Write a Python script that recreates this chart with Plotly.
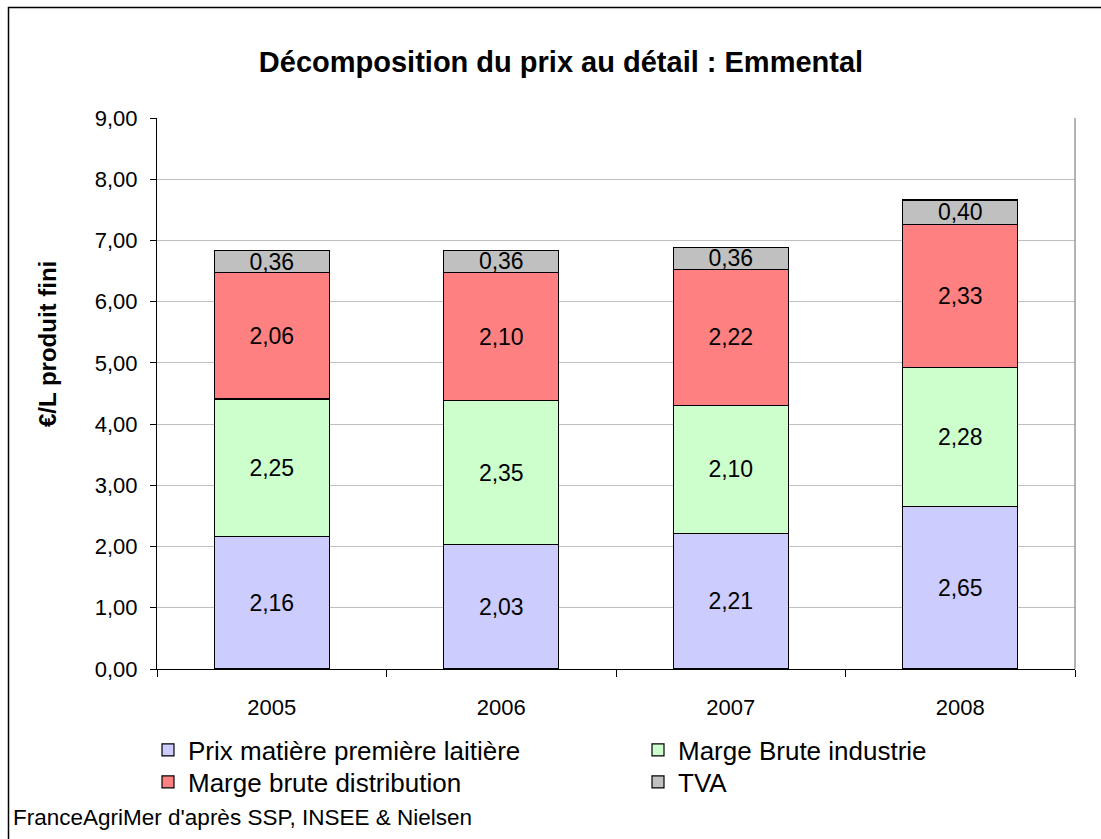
import plotly.graph_objects as go

years = ["2005", "2006", "2007", "2008"]
prix_matiere = [2.16, 2.03, 2.21, 2.65]
marge_industrie = [2.25, 2.35, 2.10, 2.28]
marge_distribution = [2.06, 2.10, 2.22, 2.33]
tva = [0.36, 0.36, 0.36, 0.40]

series = [
    ("Prix matière première laitière", prix_matiere, "#CCCCFF", "legend"),
    ("Marge Brute industrie", marge_industrie, "#CCFFCC", "legend"),
    ("Marge brute distribution", marge_distribution, "#FF8080", "legend2"),
    ("TVA", tva, "#C0C0C0", "legend2"),
]

W, H = 1101, 839
L, R, T, B = 157, 26, 118, 170
pw, ph = W - L - R, H - T - B

font = "Liberation Sans, Arial, sans-serif"

fig = go.Figure()
for name, vals, col, leg in series:
    fig.add_trace(go.Bar(
        x=years, y=vals, name=name, legend=leg,
        marker=dict(color=col, line=dict(color="#000000", width=1.2)),
        text=[f"{v:.2f}".replace(".", ",") for v in vals],
        textposition="inside", insidetextanchor="middle",
        constraintext="none",
        textfont=dict(family=font, size=23, color="#000000"),
        hoverinfo="skip",
    ))

def px_x(p):
    return (p - L) / pw

def px_y(p):
    return (H - B - p) / ph

leg_common = dict(
    orientation="h", xanchor="left", yanchor="middle",
    entrywidth=445, entrywidthmode="pixels",
    traceorder="normal", font=dict(size=26, family=font),
    itemwidth=30, tracegroupgap=0, bgcolor="rgba(0,0,0,0)",
)

fig.update_layout(
    width=W, height=H,
    barmode="stack", bargap=0.5,
    separators=", ",
    paper_bgcolor="#FFFFFF", plot_bgcolor="#FFFFFF",
    margin=dict(l=L, r=R, t=T, b=B, autoexpand=False),
    font=dict(family=font, size=22, color="#000000"),
    title=dict(text="<b>Décomposition du prix au détail : Emmental</b>",
               x=561 / W, xanchor="center", y=1 - 62 / H, yanchor="middle",
               font=dict(size=29, family=font)),
    xaxis=dict(
        type="category", showgrid=False,
        showline=True, linecolor="#000000", linewidth=1.2,
        ticks="outside", tickson="boundaries", ticklen=7, tickcolor="#000000",
        tickfont=dict(size=22), ticklabelstandoff=18,
    ),
    yaxis=dict(
        range=[0, 9], dtick=1, tickformat=".2f",
        showgrid=True, gridcolor="#C0C0C0", gridwidth=1,
        showline=True, linecolor="#000000", linewidth=1.2,
        ticks="outside", ticklen=6, tickcolor="#000000",
        tickfont=dict(size=22), zeroline=False, ticklabelstandoff=8,
    ),
    legend=dict(x=px_x(148), y=px_y(750), **leg_common),
    legend2=dict(x=px_x(148), y=px_y(782), **leg_common),
    showlegend=True,
)

# y-axis title
fig.add_annotation(text="<b>€/L produit fini</b>", xref="paper", yref="paper",
                   x=px_x(47), y=px_y(344), textangle=-90, showarrow=False,
                   xanchor="center", yanchor="middle", font=dict(size=24, family=font))

# right plot border (gray)
fig.add_shape(type="line", xref="paper", yref="paper", x0=1, x1=1, y0=0, y1=1,
              line=dict(color="#808080", width=1.2))
# outer chart border
fig.add_shape(type="rect", xref="paper", yref="paper",
              x0=px_x(8.5), x1=px_x(1106), y0=px_y(7.5), y1=px_y(846),
              line=dict(color="#000000", width=1.5), layer="below")

fig.add_annotation(text="FranceAgriMer d'après SSP, INSEE & Nielsen",
                   xref="paper", yref="paper", x=px_x(11), y=px_y(817),
                   xanchor="left", yanchor="middle", showarrow=False,
                   font=dict(size=22.5, family=font))

fig.write_html("out.html", config={"displayModeBar": False},
               post_script="document.body.style.margin='0';document.body.style.padding='0';")
